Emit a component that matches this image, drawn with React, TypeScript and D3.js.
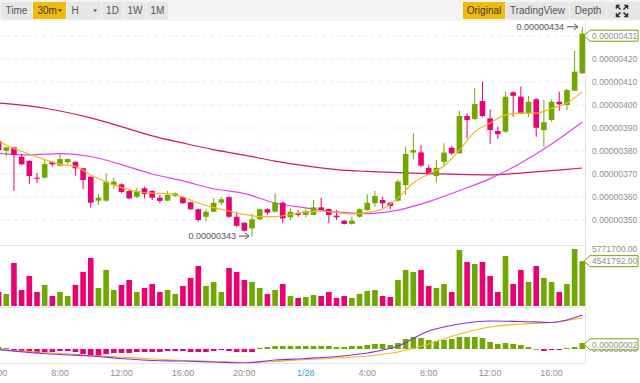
import React from "react";
import * as d3 from "d3";

// ---------- DATA (prices in 1e-8, index -1 = Jan 27 4:00, 30m candles) ----------
const firstIndex = -1;
const opens = [384.3,380.1,381.6,377.5,375.7,368.4,368.4,375.3,373.6,375.1,375.3,372.5,368.8,358.4,358.4,365.2,365.5,362.6,360.1,363.8,362.6,359.7,358.4,360.4,359.9,357.7,354.7,351.4,353.6,357.5,359.9,351.4,348.8,346.4,350.3,354.7,353.6,357.5,351.2,352.9,352.2,352.2,355.5,354.8,351.9,349.7,348.3,351.4,354.3,357.3,358.7,357.5,358.4,365.2,379.3,379.4,372.7,369.1,375.3,381.4,379,395.2,393.9,401.7,394.2,388.7,388.4,405.5,403.6,396.4,402.5,389.1,393.5,401.4,400,406.2,413.8];
const highs = [385,381.8,381.8,378.7,376,370.4,376.4,375.5,378.6,376.7,375.5,372.7,369,361.2,370.3,368.4,366,363,364,364.5,363,360.9,362.6,362,360.3,358,355,354.7,359.4,359.9,360.3,353.6,349,352.6,355,355,361.6,358,355,354.3,355,358.7,359.7,355,354.3,350,351.4,355,361.2,362.7,360.1,357.7,367.7,381.9,387.7,382.6,373.9,376.1,383.3,382.2,397.5,396.4,407.3,410.1,398.1,390.6,405.8,406,408,403.9,403,402.2,402.5,405.8,407,423.6,434];
const lows = [380,377.5,362.6,373.8,365.7,366.1,368,373.2,373.4,374.2,369.3,363.5,355.3,356.5,358,363.4,361.6,359,359.4,359.4,358.7,357.3,358.2,360,357,354.3,349.3,349.3,353.3,356.5,351,347,345,343,350,352.2,353.3,348.6,350,351.4,351.2,352,354,348.6,350,348,348,351,354,355.8,355.1,354.7,358,360.9,376.4,373,369.5,366.2,373.2,378.3,378.7,385.5,393.5,394.8,383,385.2,388,394.9,396,394.9,386.2,381.9,392.7,397.5,397.8,406,413.5];
const closes = [380.4,381.6,378.3,374.2,369.1,368,374.3,374.2,376.5,376.5,372.5,367.4,357.5,359.7,366.7,366.7,362.2,359.4,362.6,361.3,359.7,358.3,360.9,361.6,357.3,354.7,350,353.6,357.5,359,351.4,347.5,345.3,350.3,354.7,353.2,357.5,350.7,353.6,352.2,353.9,355.5,354.3,352.2,351.2,348.3,349.7,354.7,357.5,360.4,357.3,356.1,366.7,378.7,380.4,373.6,369.9,372.7,379.3,379,395.2,393.5,400.4,395.2,389.1,387.3,403.6,404,396.4,401.4,390.1,392.5,401.4,400.3,406.5,414.5,431];
// volume in millions
const volumes = [1.42,1.22,4.35,1.62,3.04,1.42,2.13,1.01,1.42,1.01,2.13,3.44,4.86,1.82,3.65,1.62,2.13,2.63,1.42,1.82,2.23,1.42,1.62,1.22,2.03,2.84,4.05,2.03,2.43,1.42,3.85,3.44,2.63,2.43,1.82,1.22,1.62,2.23,1.01,0.81,0.91,1.11,1.01,1.42,0.81,1.01,0.81,1.22,1.52,1.62,1.01,0.91,2.63,3.65,3.44,3.65,2.03,1.82,2.23,1.42,5.67,4.46,4.25,4.46,3.04,1.42,5.06,2.23,3.65,2.43,4.05,2.84,2.43,1.42,2.23,5.7717,4.541792];

// moving averages read at sample candle indices
const ma7Index = [-1,1,3,5,7,9,11,13,15,17,19,21,23,25,27,29,31,33,35,37,39,41,43,45,47,49,51,53,55,57,59,61,63,65,67,69,71,73,75];
const ma7 = [384.3,381.1,378.7,376.3,374.3,373.3,369.6,366.5,364.1,362.4,361.7,361.5,360.0,357.4,355.4,353.9,352.4,351.5,351.5,352.4,353.5,353.9,353.3,352.6,353.3,354.8,359.6,366.1,370.0,373.5,380.4,388.3,392.2,395.7,396.5,396.5,398.5,400.9,405.7];
const maIndex = [-1,3,7,11,15,19,23,27,31,35,39,43,47,51,55,59,63,67,71,75];
const ma25 = [379.0,378.3,378.9,377.6,374.1,370.0,367.0,363.6,361.5,357.4,355.3,353.5,352.8,354.3,358.0,362.8,368.0,374.8,383.0,392.6];
const ma99 = [400.9,399.6,397.4,394.4,390.6,386.6,383.5,380.6,378.2,375.6,373.5,371.9,371.1,370.6,370.2,369.8,369.6,370.4,371.5,372.6];

// MACD (1e-9 units)
const dif = [-2,-14,-22,-28,-38,-46,-48,-52,-56,-44,-38,-30,-16,12,72,100,112,110,106,136];
const dea = [-2,-10,-18,-26,-32,-40,-46,-50,-54,-50,-42,-36,-28,-12,20,60,88,100,106,124];
const macdHist = [8,4,-8,-12,-16,-16,-12,-12,-8,-8,-12,-20,-28,-28,-20,-16,-16,-16,-12,-12,-12,-12,-8,-8,-8,-12,-12,-12,-8,-4,-8,-12,-12,-12,4,8,12,12,12,12,12,12,12,12,8,8,12,12,16,20,20,16,24,40,48,44,36,32,36,40,48,48,48,44,28,20,24,20,16,8,0,-8,-4,-4,4,8,24];

const priceTicks = [350,360,370,380,390,400,410,420,430];
const timeTickIndex = [-1,7,15,23,31,39,47,55,63,71];
const timeTickText = ["4:00","8:00","12:00","16:00","20:00","1/28","4:00","8:00","12:00","16:00"];

const lowLabel = "0.00000343";
const highLabel = "0.00000434";
const lastPriceLabel = "0.00000431";
const volMaxLabel = "5771700.00";
const volLastLabel = "4541792.00";
const macdLastLabel = "0.00000002";
const macdZeroLabel = "0.00000000";

// ---------- STYLE ----------
const UP = "#70a800";
const DOWN = "#ea0070";
const C_MA7 = "#f9b61a";
const C_MA25 = "#ea3ff0";
const C_MA99 = "#d21866";
const C_DIF = "#8a2fe0";
const C_DEA = "#fbb321";
const FONT = "'Liberation Sans', Arial, sans-serif";
const AXIS_TXT = "#8f8f8f";

const W = 640, H = 383;
const PLOT_R = 585;
const MAIN_TOP = 22, MAIN_BOT = 245, VOL_BOT = 307, MACD_BOT = 363.5;

const leftButtons = [
  { label: "Time", x: 1, w: 31, active: false, caret: false },
  { label: "30m", x: 33, w: 33, active: true, caret: true },
  { label: "H", x: 67, w: 34, active: false, caret: true },
  { label: "1D", x: 102, w: 21, active: false, caret: false },
  { label: "1W", x: 124, w: 22, active: false, caret: false },
  { label: "1M", x: 147, w: 21, active: false, caret: false },
];
const rightButtons = [
  { label: "Original", x: 463, w: 42, active: true },
  { label: "TradingView", x: 506, w: 63, active: false },
  { label: "Depth", x: 570, w: 36, active: false },
];

export default function App() {
  const n = opens.length;
  const idx = d3.range(firstIndex, firstIndex + n);
  const x = d3.scaleLinear().domain([-1, 75]).range([-1.4, 582.3]);
  const yP = d3.scaleLinear().domain([350, 420]).range([220, 59]);
  const yV = d3.scaleLinear().domain([0, 5.7717]).range([306, 249]);
  const yM = d3.scaleLinear().domain([0, 100]).range([349, 324]);
  const bw = 5.6;

  const lineP = (ix: number[]) =>
    d3.line<number>().x((_, k) => x(ix[k])).y((d) => yP(d)).curve(d3.curveMonotoneX);
  const lineM = d3.line<number>().x((_, k) => x(maIndex[k])).y((d) => yM(d)).curve(d3.curveMonotoneX);

  const fmt = (p: number) => (p / 1e8).toFixed(8);

  const boxPath = (cy: number) =>
    `M${PLOT_R - 1},${cy} L${PLOT_R + 5},${cy - 5.5} H${638} V${cy + 5.5} H${PLOT_R + 5} Z`;

  const arrow = (x1: number, x2: number, y: number) =>
    `M${x1},${y} H${x2} M${x2 - 4},${y - 3} L${x2},${y} L${x2 - 4},${y + 3}`;

  const lowY = yP(343);
  const highY = yP(434);
  const lastY = yP(431);

  return (
    <div style={{ position: "absolute", left: 0, top: 0, width: W, height: H, background: "#fff" }}>
      <svg width={W} height={H} style={{ display: "block", fontFamily: FONT }}>
        <defs>
          <clipPath id="mainClip"><rect x={0} y={MAIN_TOP} width={PLOT_R} height={MAIN_BOT - MAIN_TOP} /></clipPath>
          <clipPath id="volClip"><rect x={0} y={MAIN_BOT} width={PLOT_R} height={VOL_BOT - MAIN_BOT} /></clipPath>
          <clipPath id="macdClip"><rect x={0} y={VOL_BOT} width={PLOT_R} height={MACD_BOT - VOL_BOT} /></clipPath>
        </defs>
        <rect x={0} y={0} width={W} height={H} fill="#fff" />

        {/* toolbar */}
        <rect x={0} y={0} width={W} height={21} fill="#f4f4f4" />
        {leftButtons.map((b) => (
          <g key={b.label}>
            <rect x={b.x} y={2} width={b.w} height={17} fill={b.active ? "#f0b90b" : "#e6e6e6"} />
            <text x={b.caret ? b.x + 4.5 : b.x + b.w / 2} y={14.2} fontSize={10} fill={b.active ? "#3a3a3a" : "#555"} textAnchor={b.caret ? "start" : "middle"}>{b.label}</text>
            {b.caret && <path d={`M${b.x + b.w - 8},${9.5} h4 l-2,2.5 z`} fill={b.active ? "#3a3a3a" : "#555"} />}
          </g>
        ))}
        {rightButtons.map((b) => (
          <g key={b.label}>
            <rect x={b.x} y={2} width={b.w} height={17} fill={b.active ? "#f0b90b" : "#e6e6e6"} />
            <text x={b.x + b.w / 2} y={14.2} fontSize={10} fill={b.active ? "#3a3a3a" : "#555"} textAnchor="middle">{b.label}</text>
          </g>
        ))}
        <rect x={607} y={2} width={33} height={17} fill="#e6e6e6" />
        <g stroke="#333" strokeWidth={1.6} fill="#333">
          <path d="M616,5 l4,0 l-4,4 z" strokeWidth={0.5} />
          <path d="M617,6 l3.5,3.5" />
          <path d="M628,5 l-4,0 l4,4 z" strokeWidth={0.5} />
          <path d="M627,6 l-3.5,3.5" />
          <path d="M616,17 l4,0 l-4,-4 z" strokeWidth={0.5} />
          <path d="M617,16 l3.5,-3.5" />
          <path d="M628,17 l-4,0 l4,-4 z" strokeWidth={0.5} />
          <path d="M627,16 l-3.5,-3.5" />
        </g>

        {/* grid */}
        {priceTicks.map((p) => (
          <line key={p} x1={0} x2={PLOT_R} y1={yP(p)} y2={yP(p)} stroke="#ececec" strokeDasharray="4,3" />
        ))}

        {/* panel borders */}
        <line x1={PLOT_R + 0.5} x2={PLOT_R + 0.5} y1={MAIN_TOP} y2={MACD_BOT} stroke="#e3e3e3" />
        <line x1={0} x2={PLOT_R} y1={MAIN_BOT + 0.5} y2={MAIN_BOT + 0.5} stroke="#e6e6e6" />
        <line x1={0} x2={PLOT_R} y1={VOL_BOT + 0.5} y2={VOL_BOT + 0.5} stroke="#e6e6e6" />
        <line x1={0} x2={PLOT_R} y1={MACD_BOT} y2={MACD_BOT} stroke="#e6e6e6" />

        {/* candles */}
        <g clipPath="url(#mainClip)">
          <path d={lineP(maIndex)(ma99) || ""} fill="none" stroke={C_MA99} strokeWidth={1.2} />
          <path d={lineP(maIndex)(ma25) || ""} fill="none" stroke={C_MA25} strokeWidth={1.2} />
          {idx.map((i, k) => {
            const o = opens[k], c = closes[k];
            const up = c >= o;
            const col = up ? UP : DOWN;
            const top = yP(Math.max(o, c));
            const bh = Math.max(1, Math.abs(yP(o) - yP(c)));
            const cx = x(i);
            return (
              <g key={i}>
                <line x1={cx} x2={cx} y1={yP(highs[k])} y2={yP(lows[k])} stroke={col} strokeWidth={1} />
                <rect x={cx - bw / 2} y={top} width={bw} height={bh} fill={col} />
              </g>
            );
          })}
          <path d={lineP(ma7Index)(ma7) || ""} fill="none" stroke={C_MA7} strokeWidth={1.2} />
        </g>

        {/* low / high annotations */}
        <text x={236} y={lowY + 3.2} fontSize={9} fill="#555" textAnchor="end">{lowLabel}</text>
        <path d={arrow(239, 249, lowY)} stroke="#555" fill="none" strokeWidth={1} />
        <text x={564} y={highY + 3.2} fontSize={9} fill="#555" textAnchor="end">{highLabel}</text>
        <path d={arrow(567, 578, highY)} stroke="#555" fill="none" strokeWidth={1} />

        {/* price axis labels */}
        {priceTicks.map((p) => (
          <text key={p} x={592} y={yP(p) + 3.2} fontSize={8.6} fill={AXIS_TXT}>{fmt(p)}</text>
        ))}
        <path d={boxPath(lastY + 2)} fill="#fff" stroke={UP} strokeWidth={1} />
        <text x={592} y={lastY + 5.2} fontSize={8.6} fill={AXIS_TXT}>{lastPriceLabel}</text>

        {/* volume */}
        <g clipPath="url(#volClip)">
          {idx.map((i, k) => {
            const up = closes[k] >= opens[k];
            const cx = x(i);
            return <rect key={i} x={cx - bw / 2} y={yV(volumes[k])} width={bw} height={yV(0) - yV(volumes[k])} fill={up ? UP : DOWN} />;
          })}
        </g>
        <text x={592} y={yV(5.7717) + 3.2} fontSize={8.6} fill={AXIS_TXT}>{volMaxLabel}</text>
        <path d={boxPath(yV(4.541792))} fill="#fff" stroke={UP} strokeWidth={1} />
        <text x={592} y={yV(4.541792) + 3.2} fontSize={8.6} fill={AXIS_TXT}>{volLastLabel}</text>

        {/* MACD */}
        <g clipPath="url(#macdClip)">
          {idx.map((i, k) => {
            const v = macdHist[k];
            const cx = x(i);
            return <rect key={i} x={cx - bw / 2} y={Math.min(yM(v), yM(0))} width={bw} height={Math.max(0.8, Math.abs(yM(v) - yM(0)))} fill={v >= 0 ? UP : DOWN} />;
          })}
          <path d={lineM(dea) || ""} fill="none" stroke={C_DEA} strokeWidth={1.2} />
          <path d={lineM(dif) || ""} fill="none" stroke={C_DIF} strokeWidth={1.2} />
        </g>
        <text x={592} y={yM(0) + 3.2} fontSize={8.6} fill={AXIS_TXT}>{macdZeroLabel}</text>
        <path d={boxPath(yM(0) - 4.7)} fill="#fff" stroke={UP} strokeWidth={1} />
        <text x={592} y={yM(0) - 4.7 + 3.2} fontSize={8.6} fill={AXIS_TXT}>{macdLastLabel}</text>

        {/* time axis */}
        {timeTickIndex.map((i, k) => (
          <text key={k} x={x(i)} y={376} fontSize={9} textAnchor="middle" fill={timeTickText[k] === "1/28" ? "#3c9fe0" : AXIS_TXT}>{timeTickText[k]}</text>
        ))}
      </svg>
    </div>
  );
}
